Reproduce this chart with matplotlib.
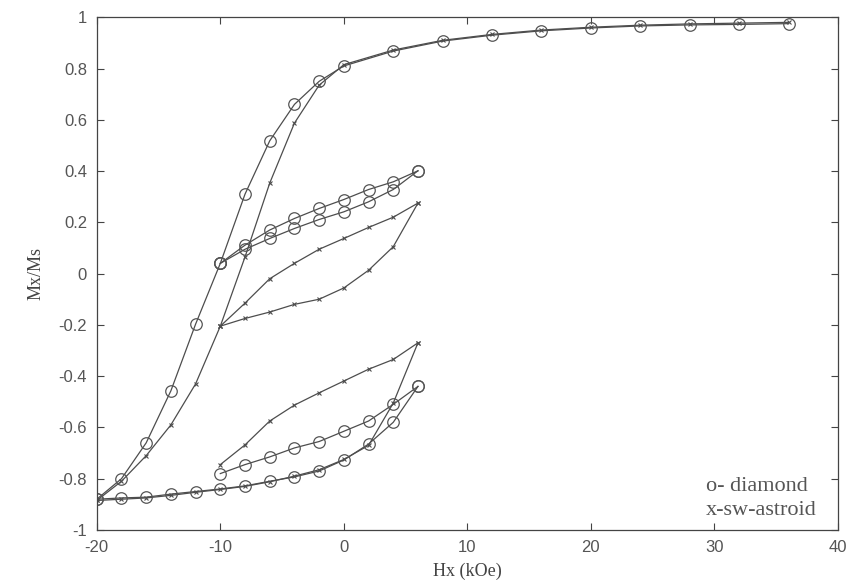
import matplotlib
matplotlib.use("Agg")
import matplotlib.pyplot as plt

plt.rcParams["axes.unicode_minus"] = False

# ---------------- data ----------------
# diamond (o) series
dia_main_H = [36, 32, 28, 24, 20, 16, 12, 8, 4, 0, -2, -4, -6, -8, -10, -12, -14, -16, -18, -20]
dia_main_M = [0.975, 0.972, 0.970, 0.966, 0.958, 0.947, 0.930, 0.907, 0.868, 0.810, 0.750, 0.660,
              0.518, 0.310, 0.040, -0.197, -0.457, -0.660, -0.800, -0.880]
dia_asc_H = [-20, -18, -16, -14, -12, -10, -8, -6, -4, -2, 0, 2, 4, 6]
dia_asc_M = [-0.880, -0.875, -0.872, -0.860, -0.850, -0.840, -0.828, -0.810, -0.793, -0.770,
             -0.727, -0.665, -0.580, -0.440]
dia_low_loop_H = [6, 4, 2, 0, -2, -4, -6, -8, -10]
dia_low_loop_M = [-0.440, -0.510, -0.575, -0.615, -0.655, -0.680, -0.715, -0.745, -0.780]
dia_up_asc_H = [-10, -8, -6, -4, -2, 0, 2, 4, 6]
dia_up_asc_M = [0.040, 0.095, 0.137, 0.176, 0.211, 0.241, 0.280, 0.328, 0.401]
dia_up_desc_H = [6, 4, 2, 0, -2, -4, -6, -8, -10]
dia_up_desc_M = [0.401, 0.358, 0.328, 0.289, 0.254, 0.215, 0.170, 0.111, 0.040]

# sw-astroid (x) series
ast_main_H = [36, 32, 28, 24, 20, 16, 12, 8, 4, 0, -2, -4, -6, -8, -10, -12, -14, -16, -18, -20]
ast_main_M = [0.980, 0.977, 0.974, 0.969, 0.961, 0.950, 0.933, 0.910, 0.872, 0.815, 0.735, 0.587,
              0.353, 0.065, -0.205, -0.430, -0.590, -0.710, -0.810, -0.885]
ast_asc_H = [-20, -18, -16, -14, -12, -10, -8, -6, -4, -2, 0, 2, 4, 6]
ast_asc_M = [-0.885, -0.880, -0.875, -0.865, -0.853, -0.842, -0.830, -0.812, -0.790, -0.765,
             -0.725, -0.670, -0.505, -0.270]
ast_low_loop_H = [6, 4, 2, 0, -2, -4, -6, -8, -10]
ast_low_loop_M = [-0.270, -0.335, -0.373, -0.419, -0.465, -0.513, -0.575, -0.668, -0.745]
ast_up_asc_H = [-10, -8, -6, -4, -2, 0, 2, 4, 6]
ast_up_asc_M = [-0.205, -0.175, -0.150, -0.120, -0.100, -0.056, 0.013, 0.105, 0.275]
ast_up_desc_H = [6, 4, 2, 0, -2, -4, -6, -8, -10]
ast_up_desc_M = [0.275, 0.220, 0.180, 0.137, 0.095, 0.040, -0.020, -0.115, -0.205]

x_ticks = [-20, -10, 0, 10, 20, 30, 40]
y_ticks = [-1, -0.8, -0.6, -0.4, -0.2, 0, 0.2, 0.4, 0.6, 0.8, 1]
y_tick_labels = ["-1", "-0.8", "-0.6", "-0.4", "-0.2", "0", "0.2", "0.4", "0.6", "0.8", "1"]
legend_lines = ["o- diamond", "x-sw-astroid"]

# ---------------- plot ----------------
fig = plt.figure(figsize=(8.49, 5.86), dpi=100)
ax = fig.add_axes([0.114, 0.0956, 0.873, 0.875])

lc = "#4d4d4d"
lw = 0.9

dia_sets = [(dia_main_H, dia_main_M), (dia_asc_H, dia_asc_M), (dia_low_loop_H, dia_low_loop_M),
            (dia_up_asc_H, dia_up_asc_M), (dia_up_desc_H, dia_up_desc_M)]
ast_sets = [(ast_main_H, ast_main_M), (ast_asc_H, ast_asc_M), (ast_low_loop_H, ast_low_loop_M),
            (ast_up_asc_H, ast_up_asc_M), (ast_up_desc_H, ast_up_desc_M)]

for H, M in ast_sets:
    ax.plot(H, M, color=lc, lw=lw, marker="x", ms=3, mew=0.8)
for H, M in dia_sets:
    ax.plot(H, M, color=lc, lw=lw, marker="o", ms=8.3, mfc="none", mec="#555555", mew=0.9)

ax.set_xlim(-20, 40)
ax.set_ylim(-1, 1)
ax.set_xticks(x_ticks)
ax.set_yticks(y_ticks)
ax.set_yticklabels(y_tick_labels)
ax.tick_params(direction="in", top=True, right=True, length=5, width=0.8,
               colors="#444444", labelsize=12, pad=7)
for lab in ax.get_xticklabels() + ax.get_yticklabels():
    lab.set_color("#555555")
    lab.set_family("Liberation Sans")
for s in ax.spines.values():
    s.set_color("#444444")
    s.set_linewidth(0.9)

ax.set_xlabel("Hx (kOe)", family="Liberation Serif", fontsize=13, color="#444444", labelpad=6)
ax.set_ylabel("Mx/Ms", family="Liberation Serif", fontsize=13, color="#444444", labelpad=10)

ax.text(29.3, -0.83, legend_lines[0], family="Liberation Serif", fontsize=16,
        color="#555555", va="center", ha="left")
ax.text(29.3, -0.925, legend_lines[1], family="Liberation Serif", fontsize=16,
        color="#555555", va="center", ha="left")

fig.savefig("out.png", dpi=100)
